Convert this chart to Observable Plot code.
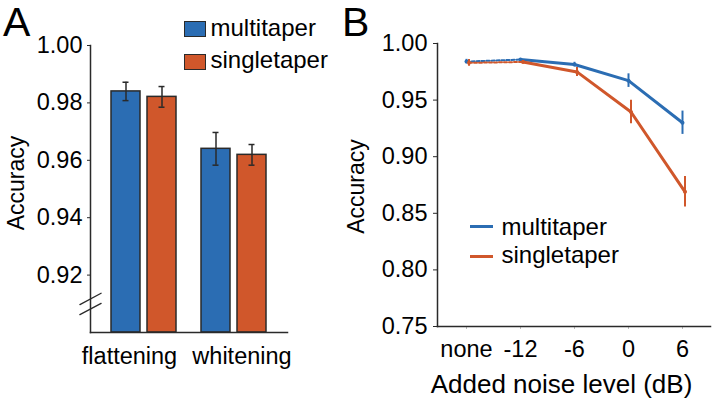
<!DOCTYPE html>
<html><head><meta charset="utf-8">
<script src="https://cdn.jsdelivr.net/npm/d3@7"></script>
<script src="https://cdn.jsdelivr.net/npm/@observablehq/plot@0.6"></script>
<style>
body{margin:0;background:#fff;}
#fig{position:relative;width:714px;height:401px;font-family:"Liberation Sans",Arial,sans-serif;color:#000;overflow:hidden;background:#fff}
.abs{position:absolute;white-space:nowrap;line-height:1}
#fig svg{position:absolute;top:0;overflow:visible}
</style></head><body><div id="fig"></div>
<script>
// ---- Panel A data ----
const categoriesA = ["flattening", "whitening"];
const seriesNames = ["multitaper", "singletaper"];
const multiA = [0.9840, 0.9640];
const multiErrA = [0.0032, 0.0057];
const singleA = [0.9821, 0.9619];
const singleErrA = [0.0036, 0.0036];
const yDomainA = [0.90, 1.00];
const yTicksA = [0.92, 0.94, 0.96, 0.98, 1.00];
const breakMarksA = [0.9117, 0.9082];

// ---- Panel B data ----
const noiseLevels = ["none", "-12", "-6", "0", "6"];
const multiB = [0.9840, 0.9858, 0.9814, 0.9672, 0.9300];
const multiErrB = [0.002, 0.001, 0.002, 0.006, 0.0103];
const singleB = [0.9829, 0.9837, 0.9749, 0.9395, 0.8690];
const singleErrB = [0.003, 0.001, 0.004, 0.0103, 0.0135];
const yDomainB = [0.75, 1.00];
const yTicksB = [0.75, 0.80, 0.85, 0.90, 0.95, 1.00];

const blue = "#2b6db3", orange = "#d0572b", ink = "#2a2a2a";
const font = "'Liberation Sans', Arial, sans-serif";
const tickFs = 23.5, labelFs = 23.5;
const mid = {textAnchor: "middle", lineAnchor: "middle"};
const fig = document.getElementById("fig");

// ---------- Panel A ----------
const rowsA = categoriesA.flatMap((c, i) => [
  {category: c, series: seriesNames[0], value: multiA[i], err: multiErrA[i]},
  {category: c, series: seriesNames[1], value: singleA[i], err: singleErrA[i]}
]);
const mA = rowsA.filter(d => d.series === seriesNames[0]);
const sA = rowsA.filter(d => d.series === seriesNames[1]);
const slash = {draw(context, l) { context.moveTo(0, 0); context.lineTo(0, -l); }};

const plotA = Plot.plot({
  width: 360, height: 401,
  marginLeft: 90, marginRight: 73, marginTop: 45, marginBottom: 69,
  style: {fontFamily: font, fontSize: tickFs + "px", color: "#000", background: "transparent", overflow: "visible"},
  x: {domain: categoriesA, paddingInner: 0.278, paddingOuter: 0.233, axis: null},
  y: {domain: yDomainA, axis: null},
  marks: [
    Plot.barY(mA, {x: "category", y1: yDomainA[0], y2: "value", fill: blue, stroke: ink, strokeWidth: 1.5, insetRight: 36}),
    Plot.barY(sA, {x: "category", y1: yDomainA[0], y2: "value", fill: orange, stroke: ink, strokeWidth: 1.5, insetLeft: 36}),
    Plot.ruleX(mA, {x: "category", y1: d => d.value - d.err, y2: d => d.value + d.err, dx: -18, stroke: ink, strokeWidth: 1.5}),
    Plot.ruleX(sA, {x: "category", y1: d => d.value - d.err, y2: d => d.value + d.err, dx: 18, stroke: ink, strokeWidth: 1.5}),
    Plot.tickY(mA, {x: "category", y: d => d.value + d.err, insetLeft: 11.5, insetRight: 47.5, stroke: ink, strokeWidth: 1.5}),
    Plot.tickY(mA, {x: "category", y: d => d.value - d.err, insetLeft: 11.5, insetRight: 47.5, stroke: ink, strokeWidth: 1.5}),
    Plot.tickY(sA, {x: "category", y: d => d.value + d.err, insetLeft: 47.5, insetRight: 11.5, stroke: ink, strokeWidth: 1.5}),
    Plot.tickY(sA, {x: "category", y: d => d.value - d.err, insetLeft: 47.5, insetRight: 11.5, stroke: ink, strokeWidth: 1.5}),
    Plot.axisY({ticks: yTicksA, tickFormat: d3.format(".2f"), tickSize: 3, tickPadding: 5, fontSize: tickFs, stroke: ink, label: null}),
    Plot.frame({anchor: "left", stroke: ink, strokeWidth: 1.5}),
    Plot.frame({anchor: "bottom", stroke: ink, strokeWidth: 1.5}),
    Plot.vector(breakMarksA, {y: d => d, frameAnchor: "left", length: 24, rotate: 62, anchor: "middle", shape: slash, stroke: ink, strokeWidth: 1.3}),
    Plot.text([categoriesA[0]], {x: d => d, text: d => d, frameAnchor: "bottom", ...mid, dy: 23.6, dx: -14.5, fontSize: labelFs}),
    Plot.text([categoriesA[1]], {x: d => d, text: d => d, frameAnchor: "bottom", ...mid, dy: 23.6, dx: 8, fontSize: labelFs}),
    Plot.text(["Accuracy"], {text: d => d, frameAnchor: "left", ...mid, rotate: -90, dx: -73.7, dy: -6, fontSize: 23})
  ]
});
plotA.style.left = "0px";
fig.appendChild(plotA);

// ---------- Panel B ----------
const rowsB = seriesNames.flatMap((s, k) => noiseLevels.map((n, i) => ({
  series: s, level: n,
  value: (k === 0 ? multiB : singleB)[i],
  err: (k === 0 ? multiErrB : singleErrB)[i]
})));
const colorOf = {[seriesNames[0]]: blue, [seriesNames[1]]: orange};
const dodge = {[seriesNames[0]]: 0, [seriesNames[1]]: 2.5};
const seriesMarks = seriesNames.flatMap(s => {
  const rows = rowsB.filter(d => d.series === s);
  const c = colorOf[s], dx = dodge[s];
  return [
    Plot.line(rows.slice(0, 2), {x: "level", y: "value", stroke: c, strokeWidth: 2, strokeDasharray: "3,2", dx}),
    Plot.line(rows.slice(1), {x: "level", y: "value", stroke: c, strokeWidth: 3, dx}),
    Plot.ruleX(rows, {x: "level", y1: d => d.value - d.err, y2: d => d.value + d.err, stroke: c, strokeWidth: 2, dx}),
    Plot.dot(rows, {x: "level", y: "value", r: 2, fill: c, dx})
  ];
});

const plotB = Plot.plot({
  width: 374, height: 401,
  marginLeft: 97, marginRight: 4, marginTop: 43, marginBottom: 75,
  style: {fontFamily: font, fontSize: tickFs + "px", color: "#000", background: "transparent", overflow: "visible"},
  x: {type: "point", domain: noiseLevels, padding: 0.5, axis: null},
  y: {domain: yDomainB, axis: null},
  marks: [
    Plot.axisY({ticks: yTicksB, tickFormat: d3.format(".2f"), tickSize: 4, tickPadding: 6, fontSize: tickFs, stroke: ink, label: null}),
    Plot.axisX({tickSize: 3, tickPadding: 11, fontSize: tickFs, stroke: "#bbb", fill: "#000", label: null}),
    Plot.frame({anchor: "left", stroke: ink, strokeWidth: 1.5}),
    Plot.frame({anchor: "bottom", stroke: ink, strokeWidth: 1.5}),
    ...seriesMarks,
    Plot.text(["Added noise level (dB)"], {text: d => d, frameAnchor: "bottom", ...mid, dy: 58.5, dx: -12.5, fontSize: 26}),
    Plot.text(["Accuracy"], {text: d => d, frameAnchor: "left", ...mid, rotate: -90, dx: -80.5, dy: 1.5, fontSize: 23})
  ]
});
plotB.style.left = "340px";
fig.appendChild(plotB);

// ---------- Panel letters and legends ----------
function addText(txt, left, baseline, size) {
  const el = document.createElement("div");
  el.className = "abs";
  el.textContent = txt;
  el.style.fontSize = size + "px";
  el.style.left = left + "px";
  el.style.top = (baseline - 0.8465 * size) + "px";
  fig.appendChild(el);
}
function addBox(left, top, w, h, style) {
  const el = document.createElement("div");
  el.className = "abs";
  el.style.left = left + "px"; el.style.top = top + "px";
  el.style.width = w + "px"; el.style.height = h + "px";
  Object.assign(el.style, style);
  fig.appendChild(el);
}
addText("A", 3, 36.7, 41);
addText("B", 342, 36.7, 41);

// legend A (boxes)
addBox(184, 21, 22, 16, {background: blue, border: "1.5px solid " + ink, boxSizing: "border-box"});
addBox(184, 53.5, 22, 16.5, {background: orange, border: "1.5px solid " + ink, boxSizing: "border-box"});
addText(seriesNames[0], 210.5, 36, 24);
addText(seriesNames[1], 210.5, 68.3, 24);

// legend B (lines)
addBox(470, 225.2, 23, 3, {background: blue});
addBox(470, 255.2, 23, 3, {background: orange});
addText(seriesNames[0], 501.5, 235, 24);
addText(seriesNames[1], 501.5, 263.3, 24);
</script></body></html>
